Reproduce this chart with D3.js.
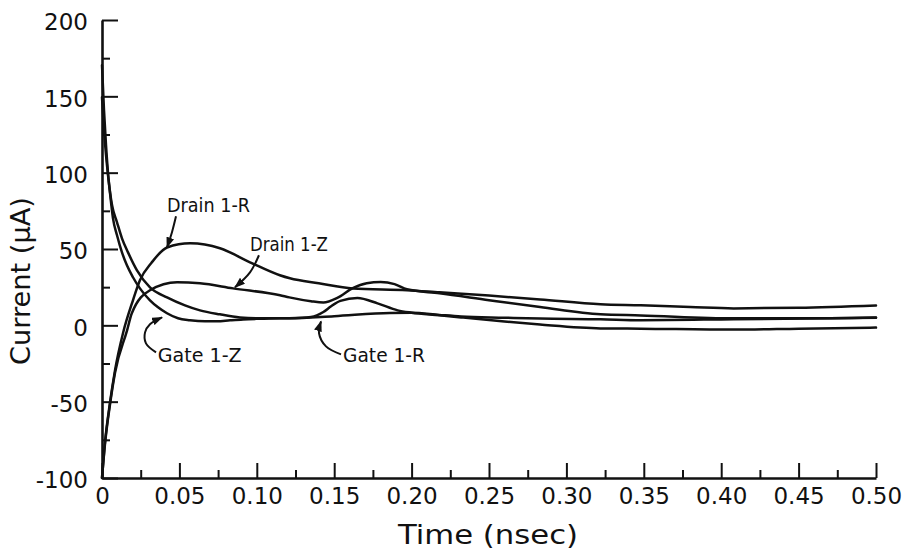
<!DOCTYPE html>
<html><head><meta charset="utf-8">
<script src="https://cdn.jsdelivr.net/npm/d3@7"></script>
<style>html,body{margin:0;padding:0;background:#fff;} svg{display:block;}</style>
</head><body><svg id="chart" width="924" height="555"></svg>
<script>
// ---- tick values & labels ----
const xMajorTicks = [0, 0.05, 0.10, 0.15, 0.20, 0.25, 0.30, 0.35, 0.40, 0.45, 0.50];
const xTickLabels = ["0", "0.05", "0.10", "0.15", "0.20", "0.25", "0.30", "0.35", "0.40", "0.45", "0.50"];
const xMinorTicks = [0.025, 0.075, 0.125, 0.175, 0.225, 0.275, 0.325, 0.375, 0.425, 0.475];
const yMajorTicks = [-100, -50, 0, 50, 100, 150, 200];
const yTickLabels = ["-100", "-50", "0", "50", "100", "150", "200"];
const yMinorTicks = [-75, -25, 25, 75, 125, 175];

// ---- series: [time (nsec), current (uA)] ----
const drain1R = [[0,-100],[0.0019,-77],[0.0052,-50.4],[0.0084,-29.5],[0.0136,-5],[0.02,16.4],[0.0245,29.5],[0.032,41],[0.042,51],[0.057,53.7],[0.0762,50.5],[0.0956,41.3],[0.1149,32.8],[0.1214,30.8],[0.14,27.6],[0.162,24.2],[0.197,23],[0.218,21.6],[0.25,19.5],[0.283,17],[0.322,13.8],[0.348,13.1],[0.38,12],[0.408,11.1],[0.45,11.5],[0.5,13]];
const drain1Z = [[0,-100],[0.0019,-78],[0.0052,-51.5],[0.0084,-31],[0.0162,-3.3],[0.0192,7.7],[0.031,23],[0.0485,28.2],[0.0633,27.5],[0.0846,24.2],[0.115,19.7],[0.121,18.3],[0.135,15.8],[0.143,15],[0.152,18],[0.162,24.4],[0.171,27.6],[0.18,28.4],[0.189,27],[0.197,23.6],[0.218,21],[0.25,16.5],[0.283,12],[0.322,7.2],[0.348,6.5],[0.408,4.6],[0.45,4.6],[0.5,5.2]];
const gate1Z = [[0,170.4],[0.0013,140.9],[0.0026,117.9],[0.0039,99.6],[0.0052,86.5],[0.0071,70.1],[0.0097,59],[0.0129,47.8],[0.0161,39.3],[0.02,31.5],[0.0245,24.2],[0.031,16.4],[0.0362,11.8],[0.042,7.9],[0.0491,4.6],[0.0568,3.3],[0.0665,2.6],[0.0743,2.6],[0.0827,3.3],[0.0911,3.9],[0.1021,4.3],[0.115,4.6],[0.121,4.6],[0.15,6],[0.186,8.1],[0.2,8.2],[0.218,6.8],[0.232,5.8],[0.26,5],[0.283,4.4],[0.322,4],[0.348,3.4],[0.408,4],[0.5,5]];
const gate1R = [[0,149.4],[0.0013,127.8],[0.0026,111.4],[0.0039,98.3],[0.0065,78.6],[0.0097,67.5],[0.0129,57],[0.0168,47.8],[0.0226,36],[0.031,24.9],[0.042,18.3],[0.0536,13.1],[0.0633,9.8],[0.0762,7.2],[0.0891,5.2],[0.1021,4.6],[0.115,4.6],[0.121,4.7],[0.135,5.5],[0.143,8.7],[0.148,12.5],[0.154,16],[0.165,17.9],[0.178,14.4],[0.191,9.8],[0.2,8.3],[0.218,6.6],[0.232,5.2],[0.26,2.5],[0.283,0.5],[0.322,-2],[0.348,-2.2],[0.408,-2.8],[0.45,-2.2],[0.5,-1.5]];
const seriesList = [drain1R, drain1Z, gate1Z, gate1R];

// ---- annotation labels (position in data units) and arrow paths ----
const labelTexts = ["Drain 1-R", "Drain 1-Z", "Gate 1-Z", "Gate 1-R"];
const labelPos = [[0.042, 74], [0.0956, 49], [0.036, -24], [0.1557, -24]];
const labelWidths = [83, 78, 84, 82];
const arrowPaths = [
  [[0.0478, 71.4], [0.0452, 61], [0.042, 51.1]],
  [[0.1014, 45.9], [0.0956, 34.7], [0.0859, 24.9]],
  [[0.0349, -17.7], [0.0284, -11.8], [0.0278, -4.6], [0.031, 0.7], [0.0388, 5.2]],
  [[0.1544, -19], [0.1447, -13.8], [0.1402, -5.2], [0.1415, 2.6]]
];

const svg = d3.select("#chart");
const x = d3.scaleLinear().domain([0, 0.5]).range([102, 876]);
const y = d3.scaleLinear().domain([-100, 200]).range([478, 20]);
const ink = "#111";
const font = "'DejaVu Sans', sans-serif";

svg.append("defs").append("marker")
  .attr("id", "ah").attr("markerUnits", "userSpaceOnUse")
  .attr("markerWidth", 11).attr("markerHeight", 8)
  .attr("refX", 10).attr("refY", 4).attr("orient", "auto")
  .append("path").attr("d", "M0,0 L11,4 L0,8 Z").attr("fill", ink);

// axes
const gx = svg.append("g").attr("transform", "translate(0,478)")
  .call(d3.axisBottom(x).tickValues(xMajorTicks).tickFormat((d, i) => xTickLabels[i])
    .tickSizeInner(-15).tickSizeOuter(0).tickPadding(10));
const gxm = svg.append("g").attr("transform", "translate(0,478)")
  .call(d3.axisBottom(x).tickValues(xMinorTicks).tickFormat("").tickSizeInner(-8).tickSizeOuter(0));
gxm.select(".domain").remove();

const gy = svg.append("g").attr("transform", "translate(102,0)")
  .call(d3.axisLeft(y).tickValues(yMajorTicks).tickFormat((d, i) => yTickLabels[i])
    .tickSizeInner(-16).tickSizeOuter(0).tickPadding(14));
const gym = svg.append("g").attr("transform", "translate(102,0)")
  .call(d3.axisLeft(y).tickValues(yMinorTicks).tickFormat("").tickSizeInner(-8).tickSizeOuter(0));
gym.select(".domain").remove();
gy.selectAll("text").attr("dy", "0.42em");

svg.selectAll(".domain").attr("stroke", ink).attr("stroke-width", 2.6);
svg.selectAll(".tick line").attr("stroke", ink).attr("stroke-width", 2);
svg.selectAll(".tick text").attr("fill", ink).style("font-family", font).style("font-size", "23px");

// curves
const line = d3.line().x(d => x(d[0])).y(d => y(d[1])).curve(d3.curveMonotoneX);
svg.append("g").selectAll("path").data(seriesList).join("path")
  .attr("d", line).attr("fill", "none").attr("stroke", ink)
  .attr("stroke-width", 2.5).attr("stroke-linejoin", "round").attr("stroke-linecap", "round");

// annotations
const aLine = d3.line().x(d => x(d[0])).y(d => y(d[1])).curve(d3.curveCatmullRom.alpha(0.5));
svg.append("g").selectAll("path").data(arrowPaths).join("path")
  .attr("d", aLine).attr("fill", "none").attr("stroke", ink).attr("stroke-width", 2)
  .attr("marker-end", "url(#ah)");
svg.append("g").selectAll("text").data(labelTexts).join("text")
  .attr("x", (d, i) => x(labelPos[i][0])).attr("y", (d, i) => y(labelPos[i][1]))
  .attr("textLength", (d, i) => labelWidths[i]).attr("lengthAdjust", "spacingAndGlyphs")
  .style("font-family", font).style("font-size", "20px").attr("fill", ink)
  .text(d => d);

// titles
svg.append("text").attr("transform", "translate(30,281) rotate(-90)")
  .attr("text-anchor", "middle").attr("textLength", 168).attr("lengthAdjust", "spacingAndGlyphs")
  .style("font-family", font).style("font-size", "26px").attr("fill", ink)
  .text("Current (μA)");
svg.append("text").attr("x", 488).attr("y", 544)
  .attr("text-anchor", "middle").attr("textLength", 180).attr("lengthAdjust", "spacingAndGlyphs")
  .style("font-family", font).style("font-size", "26px").attr("fill", ink)
  .text("Time (nsec)");
</script></body></html>
